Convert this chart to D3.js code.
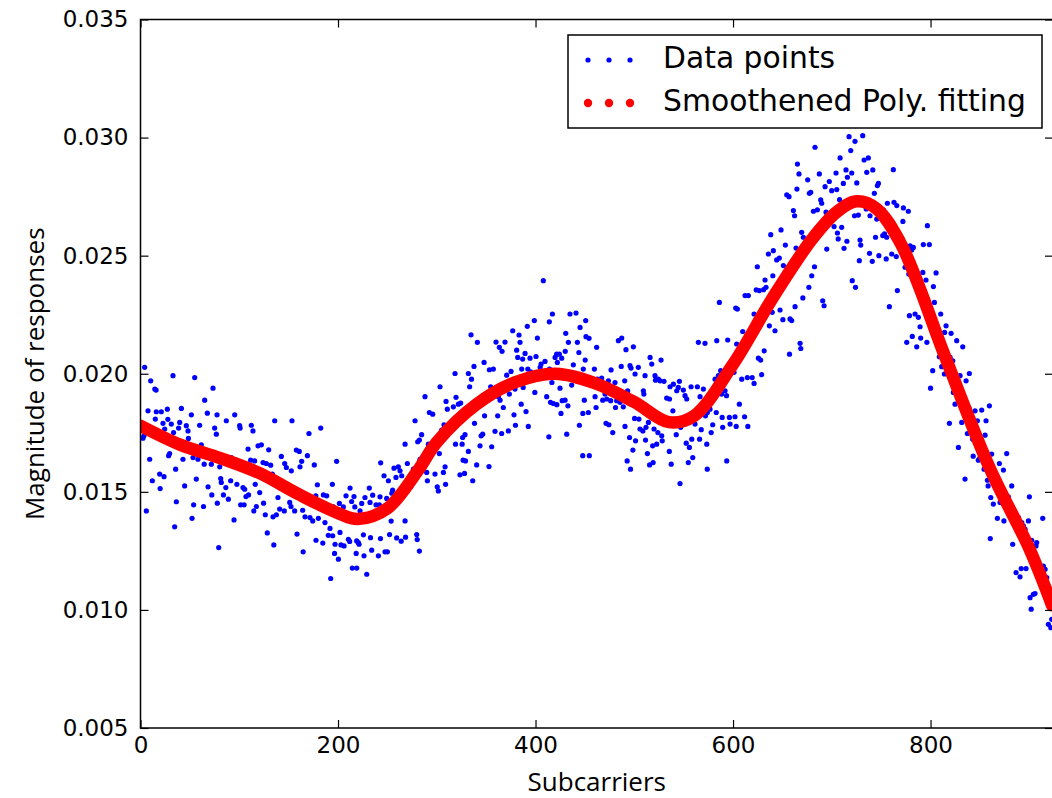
<!DOCTYPE html>
<html>
<head>
<meta charset="utf-8">
<script src="https://cdn.jsdelivr.net/npm/d3@7"></script>
<style>
  body { margin: 0; background: #fff; }
  svg { display: block; }
</style>
</head>
<body>
<div id="chart"></div>
<script>
// tick labels and legend entries
var xTicks = [0, 200, 400, 600, 800];
var yTicks = [0.005, 0.010, 0.015, 0.020, 0.025, 0.030, 0.035];
var legendNames = ["Data points", "Smoothened Poly. fitting"];

// smoothed fit
var fitCurve = [[0,0.0178],[40,0.0170],[80,0.01644],[120,0.0158],[160,0.0149],[200,0.0141],[220,0.01385],
  [250,0.0143],[280,0.01585],[300,0.0171],[340,0.0187],[380,0.01965],[420,0.0200],[460,0.0196],[500,0.0188],
  [535,0.01795],[560,0.0182],[600,0.0204],[640,0.0232],[680,0.0257],[705,0.02685],[725,0.0273],[745,0.0270],
  [770,0.0255],[815,0.0207],[860,0.0160],[900,0.0126],[923,0.0102]];

// measured points [subcarrier, magnitude]
var pointsA = [[4.2,.02027],[32.9,.01992],[54.9,.01984],[10.3,.0197],[14.5,.01935],[15.8,.01931],[73.4,.01939],[65.0,.01888],[7.6,.01843],[16.0,.01839],[21.1,.01839],[27.2,.0185],[41.4,.01853],[51.5,.01826],[67.7,.01833],[77.5,.01826],[95.4,.01826],[135.9,.01801],[153.4,.01801],[86.9,.01801],[15.0,.01808],[22.8,.0179],[27.7,.01807],[31.2,.01787],[39.7,.01794],[46.4,.0178],[59.9,.01782],[75.1,.0177],[100.4,.0178],[100.9,.0177],[112.2,.01782],[113.9,.01758],[24.5,.01766],[33.5,.01751],[38.6,.0177],[48.1,.01758],[48.5,.01726],[76.8,.01744],[3.5,.01737],[2.5,.01727],[119.0,.01695],[122.4,.01699],[108.9,.01681],[129.8,.01678],[157.8,.01677],[61.6,.01699],[63.3,.01681],[29.5,.01662],[28.5,.01653],[43.0,.01638],[53.2,.01645],[58.2,.01638],[66.7,.01648],[71.7,.01617],[9.3,.01638],[83.5,.01638],[92.0,.01645],[97.0,.01634],[111.5,.01634],[115.6,.01631],[124.1,.01624],[127.4,.0162],[131.8,.01613],[142.6,.0165],[146.0,.0162],[147.7,.01603],[152.7,.01589],[64.5,.01617],[80.2,.01606],[88.6,.01617],[107.2,.0161],[118.5,.01596],[133.5,.01575],[136.5,.01561],[35.6,.01596],[19.4,.01575],[23.8,.01564],[12.0,.01547],[56.5,.01554],[81.2,.01556],[81.8,.0154],[91.3,.01547],[97.6,.01532],[103.8,.01518],[105.5,.01511],[86.4,.01518],[68.4,.01521],[44.7,.01525],[19.9,.01514],[116.2,.01532],[120.7,.01497],[139.2,.01476],[72.2,.01487],[84.0,.01487],[89.0,.01469],[109.4,.01487],[106.8,.0148],[36.3,.01458],[53.8,.01445],[63.8,.01438],[77.8,.01452],[101.4,.01445],[104.9,.01445],[117.3,.01438],[124.6,.01452],[114.8,.01419],[126.4,.01403],[134.2,.01394],[137.6,.01403],[140.9,.01427],[145.6,.01419],[151.1,.01455],[152.4,.01438],[156.1,.01419],[5.9,.01419],[52.2,.01388],[94.7,.01381],[34.6,.01352],[128.4,.01326],[135.0,.01275],[79.2,.01264],[158.5,.01321]];
var pointsB = [[303.3,.01945],[288.1,.01903],[309.4,.01883],[292.5,.01836],[295.9,.01829],[310.7,.0185],[182.5,.0177],[170.6,.01747],[278.0,.01801],[307.3,.01784],[305.0,.01761],[284.7,.01742],[282.4,.01719],[280.7,.01712],[267.9,.01702],[291.5,.01702],[299.9,.01702],[160.8,.01671],[169.0,.01653],[163.2,.01629],[161.5,.01606],[176.0,.01614],[198.6,.01629],[243.2,.01623],[256.7,.016],[261.1,.01606],[270.2,.0162],[276.3,.01596],[283.0,.01638],[308.4,.01606],[302.6,.01662],[306.7,.01582],[246.6,.01568],[251.0,.01547],[258.7,.01561],[262.8,.01589],[264.5,.01568],[289.8,.01582],[298.2,.01575],[290.5,.01547],[179.1,.0153],[194.3,.01532],[212.2,.01516],[231.7,.01516],[177.5,.01483],[185.2,.01487],[188.5,.01483],[208.1,.01483],[216.2,.0148],[227.3,.01476],[235.1,.01486],[242.5,.01479],[255.3,.01507],[254.5,.01494],[269.5,.01504],[273.6,.01521],[300.5,.01521],[301.6,.01504],[308.9,.01532],[195.3,.01436],[201.4,.01451],[205.4,.01436],[213.8,.01459],[217.0,.01436],[222.3,.0142],[224.0,.01451],[232.4,.01455],[238.5,.01445],[241.9,.01445],[249.3,.01472],[252.7,.01462],[164.2,.01422],[166.6,.01394],[171.6,.01391],[174.4,.01377],[180.1,.01388],[186.8,.0137],[191.9,.01345],[194.6,.01314],[190.2,.01316],[202.0,.01328],[210.5,.01299],[218.9,.01292],[221.3,.01278],[225.7,.01318],[232.9,.01306],[243.0,.01302],[253.8,.01376],[252.2,.01319],[259.4,.01305],[267.9,.01377],[268.4,.01308],[264.0,.01291],[279.7,.01319],[280.2,.01298],[282.4,.01249],[164.7,.01246],[177.7,.01295],[184.6,.01283],[197.0,.01278],[203.0,.01275],[206.1,.01271],[211.8,.0129],[220.6,.01285],[234.1,.01253],[240.9,.01229],[247.6,.01246],[250.0,.01246],[196.5,.01239],[200.4,.01215],[218.4,.01239],[226.3,.01229],[214.5,.01177],[219.0,.01177],[229.1,.01151],[192.6,.01133]];
var pointsC = [[407.9,.02394],[417.1,.02253],[434.9,.02253],[441.0,.02257],[414.0,.0222],[398.8,.02225],[450.8,.02225],[391.7,.02201],[376.9,.02182],[383.3,.02164],[334.7,.02165],[341.1,.02133],[360.0,.02134],[369.1,.02134],[363.4,.02112],[366.1,.02095],[384.3,.02133],[401.9,.02151],[430.6,.02171],[433.3,.02133],[442.4,.02133],[445.1,.02196],[451.1,.02157],[454.2,.0215],[461.9,.02112],[380.9,.021],[389.4,.02086],[394.4,.02066],[400.5,.02073],[387.0,.02062],[382.0,.02069],[421.4,.02083],[424.1,.02083],[419.8,.02069],[430.1,.02095],[426.5,.02066],[443.9,.0209],[450.3,.02058],[405.6,.02041],[409.6,.02052],[422.1,.02048],[438.3,.02038],[347.9,.02048],[353.3,.02017],[357.3,.0202],[337.7,.02031],[332.0,.02001],[335.2,.01977],[318.5,.02001],[333.3,.01945],[386.0,.0202],[392.2,.0202],[395.1,.02008],[375.2,.0201],[370.8,.01994],[374.4,.01963],[387.5,.01942],[379.2,.01935],[397.8,.01999],[404.7,.02027],[414.2,.0202],[403.5,.01996],[416.6,.01963],[424.8,.01939],[436.6,.01952],[448.4,.0202],[459.6,.0202],[462.6,.01977],[354.6,.01945],[362.4,.01903],[367.4,.01857],[364.1,.01888],[373.5,.01914],[385.5,.01871],[390.4,.0184],[399.3,.01921],[411.3,.01903],[415.2,.01879],[418.1,.01874],[421.6,.01869],[427.0,.01886],[429.9,.01888],[432.8,.01864],[425.8,.01832],[449.4,.01888],[460.3,.01903],[461.3,.01857],[453.5,.01836],[447.9,.01832],[444.4,.01782],[431.6,.01744],[413.5,.01733],[392.7,.01777],[379.7,.01782],[372.5,.01758],[365.7,.01747],[359.0,.01756],[346.5,.01744],[344.9,.01737],[338.2,.0179],[348.4,.01822],[361.7,.01822],[378.2,.01826],[316.8,.0186],[319.5,.019],[321.9,.01871],[324.2,.01876],[343.1,.01893],[319.0,.01702],[326.2,.0173],[328.6,.01742],[332.0,.01671],[325.7,.01702],[326.7,.01634],[329.1,.01631],[340.4,.01614],[343.8,.01695],[352.9,.01607],[355.6,.01691],[323.5,.01572],[328.1,.01578],[336.4,.01547],[447.8,.01653],[454.5,.01653]];
var pointsD = [[612.2,.02331],[615.5,.02331],[586.2,.02302],[602.7,.02278],[604.4,.02274],[609.8,.02179],[564.9,.02133],[571.6,.02129],[583.5,.0214],[594.6,.02143],[603.7,.02126],[483.9,.0214],[487.3,.02151],[491.6,.02102],[499.1,.02114],[467.0,.01982],[476.5,.02016],[486.8,.02031],[495.7,.02034],[496.7,.02024],[504.1,.02027],[500.8,.01999],[516.0,.02069],[527.1,.02058],[517.7,.02041],[510.9,.01992],[521.0,.01992],[521.5,.01973],[524.4,.01977],[526.1,.0197],[530.1,.01968],[536.2,.01945],[539.6,.01956],[545.7,.01968],[544.6,.01942],[543.0,.01928],[549.7,.01931],[557.5,.01945],[563.9,.01945],[570.0,.01935],[581.8,.01977],[585.2,.01992],[587.5,.02013],[595.3,.02013],[601.0,.02006],[608.8,.01977],[614.5,.01984],[592.6,.0197],[588.4,.01914],[591.9,.01928],[593.4,.01907],[582.3,.01928],[577.4,.01907],[566.6,.01903],[551.4,.01907],[553.1,.01893],[535.7,.01893],[532.8,.01897],[509.2,.01928],[509.7,.01914],[493.3,.01928],[490.3,.0197],[480.5,.01963],[473.8,.0197],[470.4,.01914],[468.0,.01888],[472.1,.01893],[476.1,.01886],[482.2,.01886],[485.6,.01879],[481.0,.01857],[488.9,.0186],[539.1,.01843],[537.9,.01801],[562.5,.01815],[568.3,.01829],[572.1,.01822],[574.0,.01836],[576.7,.0185],[583.0,.01836],[589.0,.01815],[596.3,.01815],[602.0,.01818],[606.4,.01871],[611.7,.01818],[615.0,.01777],[603.2,.01777],[597.0,.01787],[589.5,.01773],[579.4,.01784],[577.9,.01751],[567.8,.01763],[559.9,.01804],[556.5,.01801],[561.5,.01787],[558.2,.01723],[552.6,.01706],[555.8,.01688],[566.1,.01723],[573.4,.01702],[559.2,.01645],[554.7,.01624],[573.9,.01596],[593.6,.01631],[547.0,.01773],[542.5,.01742],[527.8,.01737],[523.9,.01751],[520.0,.01766],[511.9,.01773],[505.8,.01766],[508.7,.01758],[500.3,.01811],[504.7,.01808],[514.3,.01794],[495.2,.0173],[522.7,.01702],[528.3,.01716],[518.6,.01695],[511.4,.01719],[501.3,.01716],[498.6,.01677],[513.3,.01662],[515.5,.01614],[519.1,.01624],[535.5,.01671],[537.4,.01617],[492.8,.01631],[496.2,.01596],[490.6,.01777],[478.2,.01751],[474.3,.01784],[471.4,.0179],[546.3,.01535]];
var pointsE = [[717.5,.03004],[723.5,.02984],[731.3,.03008],[719.2,.02945],[683.0,.02959],[708.4,.02914],[732.7,.02905],[737.0,.02914],[665.2,.02888],[666.8,.02846],[687.4,.02846],[704.3,.0285],[714.4,.02863],[720.2,.0285],[735.4,.02853],[741.5,.02863],[762.3,.02864],[675.6,.02821],[715.8,.02832],[711.7,.02806],[725.3,.02808],[697.5,.02814],[693.2,.02792],[699.9,.02775],[705.0,.0278],[664.7,.02782],[678.7,.02768],[677.3,.02764],[654.4,.02758],[656.7,.0275],[688.8,.02736],[689.8,.02722],[707.9,.02737],[685.4,.02694],[681.4,.02688],[694.2,.02684],[695.5,.02674],[661.1,.02691],[662.3,.02669],[747.2,.02806],[746.2,.02797],[743.1,.02764],[756.3,.02722],[763.0,.02726],[765.8,.02712],[752.2,.02694],[734.9,.02698],[738.7,.02669],[745.5,.02655],[723.0,.02669],[726.9,.02672],[702.3,.02623],[710.0,.0262],[705.7,.02596],[706.5,.02571],[715.3,.02561],[712.4,.02531],[728.6,.02566],[729.3,.02545],[744.3,.02578],[751.6,.02585],[755.6,.02578],[753.4,.02592],[738.2,.0251],[747.7,.025],[755.1,.02486],[760.7,.02507],[765.3,.02496],[727.9,.02479],[741.0,.02476],[720.7,.02394],[724.0,.02366],[648.6,.02609],[638.2,.02589],[669.5,.02599],[673.9,.02521],[671.2,.02578],[663.8,.02532],[653.0,.02545],[694.9,.02528],[640.8,.02521],[635.8,.02507],[644.2,.02482],[646.9,.0249],[651.0,.02458],[624.6,.02453],[682.5,.02453],[679.7,.02415],[676.8,.02366],[640.3,.02415],[632.4,.02397],[623.5,.02355],[626.6,.02352],[630.9,.02356],[633.4,.02366],[670.7,.02321],[662.8,.02284],[690.8,.02309],[692.2,.02288],[647.6,.0227],[639.7,.0226],[621.3,.02253],[650.5,.02229],[657.7,.02232],[659.4,.02225],[636.8,.02203],[642.5,.02182],[618.9,.02147],[667.9,.02129],[668.6,.02107],[657.2,.02083],[631.5,.02097],[625.7,.02066],[628.0,.02058],[619.4,.01984],[629.0,.01996],[766.4,.02352],[758.3,.02284],[621.3,.01959]];
var pointsF = [[772.5,.02702],[777.5,.02688],[772.0,.02645],[796.8,.02627],[770.8,.02575],[779.3,.02542],[782.6,.02535],[792.7,.02547],[798.8,.02547],[780.9,.02524],[774.2,.02451],[778.0,.02422],[792.2,.02429],[795.4,.02397],[805.6,.02427],[802.9,.02369],[803.9,.02302],[799.5,.02274],[810.3,.02253],[778.6,.02246],[784.3,.02253],[787.7,.02239],[789.4,.02199],[815.7,.02203],[814.2,.02175],[820.8,.02171],[826.5,.0214],[832.6,.02114],[781.5,.02158],[790.0,.02151],[775.9,.02133],[786.0,.02114],[796.3,.02133],[807.9,.02112],[808.9,.02072],[819.8,.02069],[822.5,.02055],[811.3,.0203],[814.0,.01999],[802.2,.02013],[829.9,.01992],[839.3,.02001],[836.0,.0197],[800.0,.01939],[823.1,.01921],[824.8,.01871],[838.8,.01857],[845.1,.01843],[851.8,.01846],[859.6,.01864],[847.4,.01801],[856.2,.01801],[819.1,.0179],[831.6,.01794],[837.3,.01747],[842.7,.01723],[855.2,.0174],[849.4,.01699],[828.2,.01688],[843.2,.01651],[849.9,.01643],[848.4,.01634],[854.2,.01596],[861.9,.0166],[869.7,.0162],[873.8,.01592],[877.1,.01662],[882.2,.01525],[857.6,.01549],[858.3,.01525],[878.8,.01479],[861.0,.01476],[863.6,.01448],[834.9,.01554],[870.4,.01455],[875.4,.01465],[867.7,.01388],[874.3,.01377],[889.0,.01391],[892.4,.0137],[895.7,.01342],[894.0,.01356],[900.1,.01479],[899.1,.01377],[913.6,.01388],[860.5,.01302],[883.2,.01278],[902.4,.01295],[907.5,.01285],[906.8,.01271],[886.6,.01158],[890.6,.0114],[891.8,.01175],[896.7,.01175],[914.3,.01186],[916.0,.01172],[917.7,.01137],[900.8,.01052],[904.1,.01066],[905.8,.01069],[901.9,.01003],[919.3,.00939],[922.7,.0096],[921.8,.00925]];

var dataPoints = pointsA.concat(pointsB, pointsC, pointsD, pointsE, pointsF);

// plot box (pixels)
var W = 1052, H = 798;
var box = {left: 140.5, top: 19.5, right: 1053, bottom: 728};

var svg = d3.select("#chart")
  .append("svg")
    .attr("width", W)
    .attr("height", H);

var x = d3.scaleLinear()
    .domain([0, 924])
    .range([box.left, box.right]);
var y = d3.scaleLinear()
    .domain([0.005, 0.035])
    .range([box.bottom, box.top]);

svg.append("clipPath").attr("id", "plotclip")
  .append("rect")
    .attr("x", box.left).attr("y", box.top)
    .attr("width", box.right - box.left).attr("height", box.bottom - box.top);

var plot = svg.append("g").attr("clip-path", "url(#plotclip)");

plot.selectAll("circle.pt")
  .data(dataPoints)
  .enter()
  .append("circle")
    .attr("class", "pt")
    .attr("cx", function(d) { return x(d[0]); })
    .attr("cy", function(d) { return y(d[1]); })
    .attr("r", 2.6)
    .attr("fill", "#0000ff");

var line = d3.line()
    .x(function(d) { return x(d[0]); })
    .y(function(d) { return y(d[1]); })
    .curve(d3.curveCatmullRom.alpha(0.5));

plot.append("path")
    .datum(fitCurve)
    .attr("d", line)
    .attr("fill", "none")
    .attr("stroke", "#ff0000")
    .attr("stroke-width", 12.5)
    .attr("stroke-linecap", "round")
    .attr("stroke-linejoin", "round");

// axes, ticks pointing in (classic matplotlib)
function styleAxis(g, withText) {
  g.select(".domain").remove();
  g.selectAll(".tick line").attr("stroke", "#000").attr("stroke-width", 1.2);
  if (withText) {
    g.selectAll(".tick text")
      .attr("fill", "#000")
      .style("font-family", "DejaVu Sans")
      .style("font-size", "23px");
  } else {
    g.selectAll(".tick text").remove();
  }
}

svg.append("g")
    .attr("transform", "translate(0," + box.bottom + ")")
    .call(d3.axisBottom(x).tickValues(xTicks).tickSizeInner(-8).tickSizeOuter(0).tickPadding(9))
    .call(styleAxis, true);
svg.append("g")
    .attr("transform", "translate(0," + box.top + ")")
    .call(d3.axisTop(x).tickValues(xTicks).tickSizeInner(-8).tickSizeOuter(0))
    .call(styleAxis, false);
svg.append("g")
    .attr("transform", "translate(" + box.left + ",0)")
    .call(d3.axisLeft(y).tickValues(yTicks).tickFormat(d3.format(".3f")).tickSizeInner(-8).tickSizeOuter(0).tickPadding(12))
    .call(styleAxis, true);
svg.append("g")
    .attr("transform", "translate(" + box.right + ",0)")
    .call(d3.axisRight(y).tickValues(yTicks).tickSizeInner(-8).tickSizeOuter(0))
    .call(styleAxis, false);

svg.append("rect")
    .attr("x", box.left).attr("y", box.top)
    .attr("width", box.right - box.left).attr("height", box.bottom - box.top)
    .attr("fill", "none")
    .attr("stroke", "#000")
    .attr("stroke-width", 1.5);

// axis titles
svg.append("text")
    .attr("x", (box.left + box.right) / 2)
    .attr("y", 791)
    .attr("text-anchor", "middle")
    .style("font-family", "Open Sans")
    .style("font-size", "26px")
    .text("Subcarriers");
svg.append("text")
    .attr("transform", "translate(44," + ((box.top + box.bottom) / 2) + ") rotate(-90)")
    .attr("text-anchor", "middle")
    .style("font-family", "Open Sans")
    .style("font-size", "26px")
    .text("Magnitude of responses");

// legend
var legend = svg.append("g").attr("transform", "translate(568,35)");
legend.append("rect")
    .attr("width", 474).attr("height", 93)
    .attr("fill", "#fff")
    .attr("stroke", "#000")
    .attr("stroke-width", 1.5);

var markerX = [20, 41, 62];
var rows = legend.selectAll("g.row")
  .data(legendNames)
  .enter()
  .append("g")
    .attr("class", "row")
    .attr("transform", function(d, i) { return "translate(0," + (i === 0 ? 25 : 68) + ")"; });

rows.each(function(d, i) {
  d3.select(this).selectAll("circle")
    .data(markerX)
    .enter()
    .append("circle")
      .attr("cx", function(m) { return m; })
      .attr("cy", 0)
      .attr("r", i === 0 ? 2.6 : 4.2)
      .attr("fill", i === 0 ? "#0000ff" : "#ff0000");
});

rows.append("text")
    .attr("x", 95)
    .attr("y", 8)
    .style("font-family", "DejaVu Sans")
    .style("font-size", "29.8px")
    .text(function(d) { return d; });
</script>
</body>
</html>
